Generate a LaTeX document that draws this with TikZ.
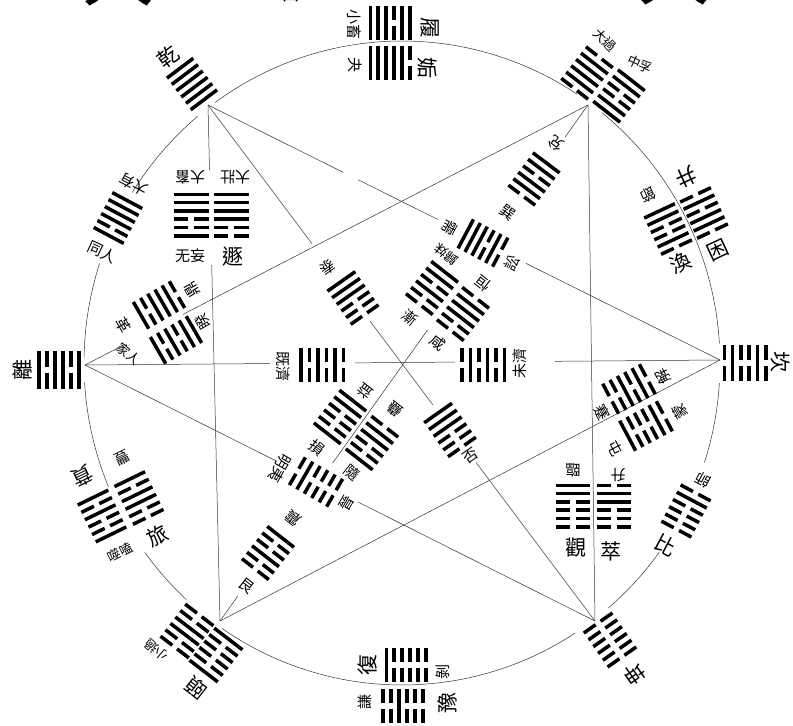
\documentclass[tikz,border=0pt]{standalone}
\usepackage{fontspec}
\usetikzlibrary{calc}
\newfontfamily\cjk{Noto Sans CJK TC}
\tikzset{
  yao/.style={line width=3.5pt},
  ring/.style={line width=0.5pt, black!80},
  chord/.style={line width=0.5pt, black!80},
  smallgua/.style={font=\cjk\fontsize{13}{13}\selectfont, inner sep=0pt},
  gua/.style={font=\cjk\fontsize{15}{15}\selectfont, inner sep=0pt},
  biggua/.style={font=\cjk\fontsize{21}{21}\selectfont, inner sep=0pt},
  titlegua/.style={font=\cjk\fontsize{72}{72}\selectfont, inner sep=0pt}
}
% one block of six lines: x, y, angle, half length, spacing, lines
\newcommand{\guahua}[6]{
  \pgfmathsetmacro{\dx}{cos(#3)}
  \pgfmathsetmacro{\dy}{-sin(#3)}
  \foreach \v [count=\j] in #6 {
    \pgfmathsetmacro{\yy}{(\j-3.5)*#5}
    \coordinate (mid) at ({#1+\yy*sin(#3)},{#2+\yy*cos(#3)});
    \ifnum\v=1
      \draw[yao] (mid) ++({-#4*\dx},{-#4*\dy}) -- ++({2*#4*\dx},{2*#4*\dy});
    \else
      \draw[yao] (mid) ++({-#4*\dx},{-#4*\dy}) -- ++({(#4-3)*\dx},{(#4-3)*\dy});
      \draw[yao] (mid) ++({3*\dx},{3*\dy}) -- ++({(#4-3)*\dx},{(#4-3)*\dy});
    \fi
  }
}

\begin{document}
\begin{tikzpicture}[x=1pt, y=-1pt]
  \useasboundingbox (0,0) rectangle (793,726);
  \clip (0,0) rectangle (793,726);
  \coordinate (qian) at (208,105);
  \coordinate (dui) at (588,105);
  \coordinate (kan) at (720,360);
  \coordinate (kun) at (595,621);
  \coordinate (yi) at (220,621);
  \coordinate (li) at (85,365);
  % circle
  \foreach \from/\upto in {234/303.4, 309/356.5, 3.6/18, 36/49.5, 57/124.5, 132.7/144, 157.4/176.5, 181/198, 212/230}
    \draw[ring] plot[domain=\from:\upto, samples=40, smooth] ({402+318*cos(\x)},{363+322*sin(\x)});
  % star
  \foreach \p/\q/\s/\e in {qian/kan/0/.264, qian/kan/.293/.449, qian/kan/.621/1,
      qian/kun/0/.269, qian/kun/.419/.581, qian/kun/.693/1,
      qian/yi/0/.126, qian/yi/.31/1, dui/kun/0/1,
      dui/li/0/.805, dui/li/.92/1,
      dui/yi/0/.062, dui/yi/.436/.694, dui/yi/.952/1,
      kan/yi/0/1,
      li/kan/0/.291, li/kan/.425/.583, li/kan/.74/1,
      li/kun/0/.376, li/kun/.535/1}
    \draw[chord] ($(\p)!\s!(\q)$)--($(\p)!\e!(\q)$);
  % blocks on the circle
  \foreach \x/\y/\a/\w/\s/\b in {
      390/23/90/17/7.9/{1,1,1,0,1,1}, 390/63/90/17/7.9/{1,1,1,1,1,0},
      192/84/37/16.5/7.9/{1,1,1,1,1,1}, 118/218/-28/17/7.9/{1,1,1,1,0,1},
      59/370/90/19/8/{1,0,1,1,0,1}, 102/516/26/17/8.2/{1,0,1,0,0,1},
      139/498/26/17/8.4/{1,0,1,1,0,0}, 187/631/-37.5/17.8/8.1/{0,0,1,1,0,0},
      216/655/-37.5/17.8/8.1/{1,0,0,0,0,1}, 406/665/90/17/7.9/{1,0,0,0,0,0},
      403/706/90/17/8/{0,0,1,0,0,0}, 610/640/35/17.5/8.3/{0,0,0,0,0,0},
      686/511/-28/17/8.2/{0,1,0,0,0,0}, 745/363/90/18/8.3/{0,1,0,0,1,0},
      668/229/25/17/8/{1,1,0,0,1,0}, 704/213/25/17/8/{0,1,0,1,1,0},
      587/73/-38/17/8/{0,1,1,1,1,0}, 619/96/-38/17/8/{1,1,0,0,1,1}}
    {\guahua{\x}{\y}{\a}{\w}{\s}{\b}}
  % blocks inside
  \foreach \x/\y/\a/\w/\s/\b in {
      191/215/0/17.5/8.3/{1,1,1,0,0,1}, 231/215/0/17.5/8.3/{1,1,1,1,0,0},
      159/305/-60/15.4/8.3/{0,1,1,1,0,1}, 176/340/-60/15.4/8.3/{1,1,0,1,0,1},
      353/298/35/17/8.1/{1,1,1,0,0,0}, 450/430/35/17/8.3/{1,1,1,0,0,0},
      322/365/90/17/8.5/{1,0,1,0,1,0}, 483/365/90/17/8.5/{0,1,0,1,0,1},
      534/179/-37/16.7/8.1/{1,1,0,1,1,0}, 483/243/62/16.4/7.8/{1,1,1,0,1,0},
      432/288/-38/17/8.2/{1,1,0,1,0,0}, 463/314/-38/17/8.2/{0,1,1,1,0,0},
      340/417/-38/17/8.3/{1,1,0,0,0,1}, 372/443/-38/17/8.3/{0,1,1,0,0,1},
      316/482/60/16/8.6/{0,1,0,0,0,0}, 268/553/-38/17/8.2/{1,0,0,1,0,0},
      629/389/-62/17/8.3/{0,1,0,1,0,0}, 646/426/-62/17/8.3/{0,1,0,0,0,1},
      573/506/0/17/8.3/{1,1,0,0,0,0}, 614/506/0/17/8.3/{0,1,1,0,0,0}}
    {\guahua{\x}{\y}{\a}{\w}{\s}{\b}}
  % names
  \foreach \nx/\ny/\rr/\nm [count=\i] in {
      354/24/-90/小畜, 355/65/-90/夬, 134/184/152/大有, 102/252/-25/同人,
      190/177/180/大畜, 235/177/180/大壯, 190/256/0/无妄,
      192/290/120/鼎, 123/325/-60/革, 203/322/120/睽,
      283/366/-90/既濟, 520/363/90/未濟, 328/267/215/泰, 471/456/35/否,
      556/143/143/兌, 508/213/-37/巽, 450/228/242/需, 512/263/62/訟,
      410/318/-38/漸, 483/283/142/恒, 438/343/-38/咸,
      317/448/-38/損, 365/392/142/益, 395/410/142/蠱, 352/473/-38/隨,
      280/468/240/明夷, 347/503/60/晉, 293/518/142/震, 247/586/-38/艮,
      663/377/118/解, 602/412/-62/蹇, 680/412/118/蒙, 615/448/-62/屯,
      573/470/180/臨, 618/475/180/升, 648/195/205/節,
      122/458/206/豐, 703/480/152/師, 443/672/90/剝, 365/702/90/謙}
    \node[gua, rotate=\rr] (name\i) at (\nx,\ny) {\nm};
  % names, smaller
  \foreach \nx/\ny/\rr/\nm [count=\i] in {
      605/40/-45/大過, 640/64/-25/中孚, 120/552/26/噬嗑, 156/650/140/小過,
      129/354/-40/家人, 446/254/142/歸妹}
    \node[smallgua, rotate=\rr] (smallname\i) at (\nx,\ny) {\nm};
  % names, larger
  \foreach \nx/\ny/\rr/\nm [count=\i] in {
      168/57/37/乾, 22/370/90/離, 780/362/-90/坎, 634/674/215/坤,
      430/28/-90/履, 427/68/-90/姤, 233/257/0/遯, 576/548/0/觀, 611/551/0/萃,
      686/177/205/井, 681/263/25/渙, 718/250/25/困, 83/476/206/賁,
      157/536/26/旅, 197/688/142/頤,
      368/665/90/復, 447/703/90/豫, 666/545/-28/比}
    \node[biggua, rotate=\rr] (bigname\i) at (\nx,\ny) {\nm};
  % title, cut by the page
  \node[titlegua] (titlea) at (118,-27) {大};
  \node[biggua] (titleb) at (291,-7) {日};
  \node[titlegua] (titlec) at (674,-28) {大};
\end{tikzpicture}
\end{document}
